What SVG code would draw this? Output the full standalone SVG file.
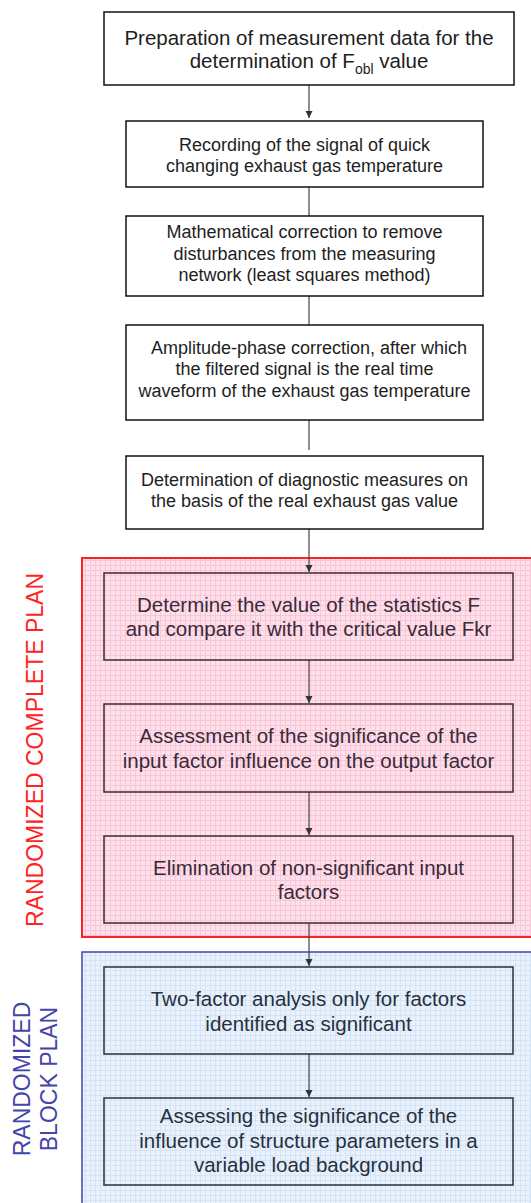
<svg xmlns="http://www.w3.org/2000/svg" width="531" height="1203" viewBox="0 0 531 1203">
<defs>
<pattern id="gridPink" width="5" height="5" patternUnits="userSpaceOnUse">
<rect width="5" height="5" fill="#fde0ea"/>
<path d="M0 0.5H5M0.5 0V5" stroke="#f8c6d7" stroke-width="1"/>
</pattern>
<pattern id="gridBlue" width="5" height="5" patternUnits="userSpaceOnUse">
<rect width="5" height="5" fill="#e9f2fc"/>
<path d="M0 0.5H5M0.5 0V5" stroke="#d5e4f5" stroke-width="1"/>
</pattern>
<marker id="arr" markerWidth="8" markerHeight="8" refX="7" refY="4" orient="auto" markerUnits="userSpaceOnUse">
<path d="M0 0.5L7 4L0 7.5Z" fill="#333"/>
</marker>
<style>
.box{fill:none;stroke:#111;stroke-width:1.5}
.pbox{fill:none;stroke:#3a2a35;stroke-width:1.5}
.bbox{fill:none;stroke:#26303c;stroke-width:1.5}
.t{font-family:"Liberation Sans",Arial,sans-serif;text-anchor:middle;fill:#1e1e1e}
.s18{font-size:18px}
.s20{font-size:20.5px}
.pt{fill:#3a2a3a}
.bt{fill:#26303e}
.conn{stroke:#444;stroke-width:1.2;fill:none}
.lab{font-family:"Liberation Sans",Arial,sans-serif;font-size:23px;text-anchor:middle}
</style>
</defs>

<g id="region-complete">
<rect x="82" y="558" width="460" height="379" fill="url(#gridPink)" stroke="#ff2222" stroke-width="2"/>
<text class="lab" fill="#ff2222" transform="translate(43,750) rotate(-90)">RANDOMIZED COMPLETE PLAN</text>
</g>
<g id="region-block">
<rect x="82" y="952" width="460" height="260" fill="url(#gridBlue)" stroke="#4444aa" stroke-width="1.5"/>
<text class="lab" fill="#4444aa" transform="translate(29.5,1079) rotate(-90)">RANDOMIZED</text>
<text class="lab" fill="#4444aa" transform="translate(56.5,1079) rotate(-90)">BLOCK PLAN</text>
</g>

<g id="connectors">
<line class="conn" x1="309" y1="85" x2="309" y2="118" marker-end="url(#arr)"/>
<line class="conn" x1="309" y1="187" x2="309" y2="216"/>
<line class="conn" x1="309" y1="296" x2="309" y2="325"/>
<line class="conn" x1="309" y1="420" x2="309" y2="450"/>
<line class="conn" x1="309" y1="529" x2="309" y2="572" marker-end="url(#arr)"/>
<line class="conn" x1="309" y1="660" x2="309" y2="703" marker-end="url(#arr)"/>
<line class="conn" x1="309" y1="792" x2="309" y2="835" marker-end="url(#arr)"/>
<line class="conn" x1="309" y1="923" x2="309" y2="966" marker-end="url(#arr)"/>
<line class="conn" x1="309" y1="1054" x2="309" y2="1097" marker-end="url(#arr)"/>
</g>

<g id="n1">
<rect class="box" x="104" y="12" width="410" height="73" fill="#fff"/>
<text class="t s20" x="309" y="45">Preparation of measurement data for the</text>
<text class="t s20" x="309" y="68">determination of F<tspan font-size="14" dy="6">obl</tspan><tspan dy="-6"> value</tspan></text>
</g>
<g id="n2">
<rect class="box" x="126" y="121" width="357" height="66"/>
<text class="t s18" x="304.5" y="151">Recording of the signal of quick</text>
<text class="t s18" x="304.5" y="172">changing exhaust gas temperature</text>
</g>
<g id="n3">
<rect class="box" x="126" y="216" width="357" height="80"/>
<text class="t s18" x="304.5" y="238">Mathematical correction to remove</text>
<text class="t s18" x="304.5" y="260">disturbances from the measuring</text>
<text class="t s18" x="304.5" y="281">network (least squares method)</text>
</g>
<g id="n4">
<rect class="box" x="126" y="325" width="357" height="95"/>
<text class="t s18" x="309" y="354">Amplitude-phase correction, after which</text>
<text class="t s18" x="304.5" y="375">the filtered signal is the real time</text>
<text class="t s18" x="304.5" y="397">waveform of the exhaust gas temperature</text>
</g>
<g id="n5">
<rect class="box" x="126" y="456" width="357" height="73"/>
<text class="t s18" x="304.5" y="486">Determination of diagnostic measures on</text>
<text class="t s18" x="304.5" y="507">the basis of the real exhaust gas value</text>
</g>
<g id="n6">
<rect class="pbox" x="104" y="573" width="409" height="87"/>
<text class="t s20 pt" x="308.5" y="612">Determine the value of the statistics F</text>
<text class="t s20 pt" x="308.5" y="636">and compare it with the critical value Fkr</text>
</g>
<g id="n7">
<rect class="pbox" x="104" y="704" width="409" height="88"/>
<text class="t s20 pt" x="308.5" y="743">Assessment of the significance of the</text>
<text class="t s20 pt" x="308.5" y="768">input factor influence on the output factor</text>
</g>
<g id="n8">
<rect class="pbox" x="104" y="836" width="409" height="87"/>
<text class="t s20 pt" x="308.5" y="875">Elimination of non-significant input</text>
<text class="t s20 pt" x="308.5" y="899">factors</text>
</g>
<g id="n9">
<rect class="bbox" x="104" y="967" width="409" height="87"/>
<text class="t s20 bt" x="308.5" y="1006">Two-factor analysis only for factors</text>
<text class="t s20 bt" x="308.5" y="1031">identified as significant</text>
</g>
<g id="n10">
<rect class="bbox" x="104" y="1098" width="409" height="87"/>
<text class="t s20 bt" x="308.5" y="1123">Assessing the significance of the</text>
<text class="t s20 bt" x="308.5" y="1148">influence of structure parameters in a</text>
<text class="t s20 bt" x="308.5" y="1172">variable load background</text>
</g>
</svg>
